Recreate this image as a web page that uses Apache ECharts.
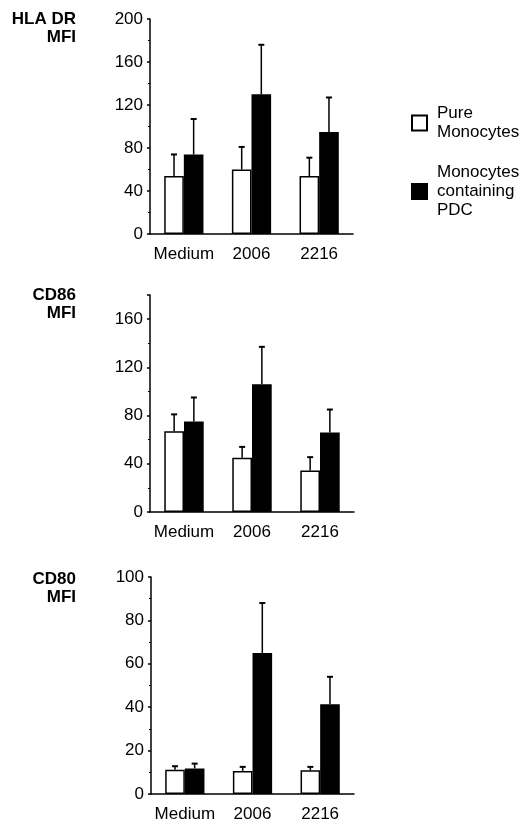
<!DOCTYPE html>
<html>
<head>
<meta charset="utf-8">
<script src="https://cdn.jsdelivr.net/npm/echarts@6/dist/echarts.min.js"></script>
<style>
html,body{margin:0;padding:0;background:#fff;}
#chart{width:523px;height:825px;}
</style>
</head>
<body>
<div id="chart"></div>
<script>
// ---- data ----
const categories = ['Medium', '2006', '2216'];
const seriesNames = ['Pure\nMonocytes', 'Monocytes\ncontaining\nPDC'];
const panelTitles = ['HLA DR\nMFI', 'CD86\nMFI', 'CD80\nMFI'];

// HLA DR
const hlaPure = [54, 60, 54];
const hlaPureSD = [20, 21, 17];
const hlaPdc = [74, 130, 95];
const hlaPdcSD = [33, 46, 32];
// CD86
const cd86Pure = [67, 45, 34.5];
const cd86PureSD = [14, 9, 11];
const cd86Pdc = [75, 106, 66];
const cd86PdcSD = [20, 31, 19];
// CD80
const cd80Pure = [11.2, 10.6, 10.9];
const cd80PureSD = [1.6, 1.9, 1.6];
const cd80Pdc = [11.8, 65, 41.4];
const cd80PdcSD = [2.2, 23, 12.6];

const yMax = [200, 180, 100];
const yInterval = [40, 40, 20];

// ---- layout ----
const FONT = '"Liberation Sans", Arial, Helvetica, sans-serif';
const grids = [
  {left: 150, top: 19, width: 203, height: 215},
  {left: 150, top: 295, width: 204, height: 217},
  {left: 151, top: 577, width: 203, height: 217}
];
const titleTops = [10, 286, 570];
const legendTops = [104, 163];
const BAR_FRAC = 0.29;

const panels = [
  [hlaPure, hlaPureSD, hlaPdc, hlaPdcSD],
  [cd86Pure, cd86PureSD, cd86Pdc, cd86PdcSD],
  [cd80Pure, cd80PureSD, cd80Pdc, cd80PdcSD]
];

function errSeries(idx, means, sds, side) {
  return {
    type: 'custom',
    xAxisIndex: idx, yAxisIndex: idx,
    z: 5,
    silent: true,
    encode: {x: 0, y: 1},
    data: means.map((m, i) => [i, m, sds[i]]),
    renderItem: function (params, api) {
      const x = api.value(0), v = api.value(1), e = api.value(2);
      const base = api.coord([x, v]);
      const top = api.coord([x, v + e]);
      const band = api.size([1, 0])[0];
      const cx = base[0] + side * band * BAR_FRAC / 2;
      return {
        type: 'group',
        children: [
          {type: 'line', shape: {x1: cx, y1: base[1], x2: cx, y2: top[1]}, style: {stroke: '#000', lineWidth: 1.5}},
          {type: 'line', shape: {x1: cx - 3, y1: top[1], x2: cx + 3, y2: top[1]}, style: {stroke: '#000', lineWidth: 2}}
        ]
      };
    }
  };
}

const legendText = {fontFamily: FONT, fontSize: 17, color: '#000', lineHeight: 19, padding: [0, 0, 0, 5]};

const option = {
  animation: false,
  backgroundColor: '#fff',
  textStyle: {fontFamily: FONT},
  title: panelTitles.map((t, i) => ({
    text: t,
    left: 76,
    top: titleTops[i],
    padding: 0,
    textAlign: 'right',
    textStyle: {fontFamily: FONT, fontSize: 17, fontWeight: 'bold', color: '#000', lineHeight: 18, align: 'right'}
  })),
  legend: seriesNames.map((n, i) => ({
    orient: 'vertical',
    left: 411,
    top: legendTops[i],
    padding: 0,
    itemWidth: 15,
    itemHeight: 15,
    icon: 'rect',
    selectedMode: false,
    data: [n],
    textStyle: legendText
  })),
  grid: grids.map(g => Object.assign({containLabel: false}, g)),
  xAxis: grids.map((g, i) => ({
    type: 'category',
    gridIndex: i,
    data: categories,
    axisLine: {lineStyle: {color: '#000', width: 1.5}},
    axisTick: {show: false},
    axisLabel: {color: '#000', fontSize: 17, fontFamily: FONT, margin: 12, interval: 0},
    splitLine: {show: false}
  })),
  yAxis: grids.map((g, i) => ({
    type: 'value',
    gridIndex: i,
    min: 0,
    max: yMax[i],
    interval: yInterval[i],
    axisLine: {show: true, lineStyle: {color: '#000', width: 1.5}},
    axisTick: {show: true, length: 3, lineStyle: {color: '#000', width: 1.5}},
    minorTick: {show: true, splitNumber: 2, length: 2, lineStyle: {color: '#000', width: 1}},
    axisLabel: {color: '#000', fontSize: 17, fontFamily: FONT, margin: 7, showMaxLabel: i !== 1},
    splitLine: {show: false}
  })),
  series: []
};

panels.forEach((p, i) => {
  option.series.push({
    name: seriesNames[0], type: 'bar', xAxisIndex: i, yAxisIndex: i,
    data: p[0], barWidth: (BAR_FRAC * 100) + '%', barGap: '0%',
    itemStyle: {color: '#fff', borderColor: '#000', borderWidth: 1.5}
  });
  option.series.push({
    name: seriesNames[1], type: 'bar', xAxisIndex: i, yAxisIndex: i,
    data: p[2], barWidth: (BAR_FRAC * 100) + '%', barGap: '0%',
    itemStyle: {color: '#000', borderColor: '#000', borderWidth: 1.5}
  });
  option.series.push(errSeries(i, p[0], p[1], -1));
  option.series.push(errSeries(i, p[2], p[3], 1));
});

const chart = echarts.init(document.getElementById('chart'), null, {renderer: 'canvas'});
chart.setOption(option);
</script>
</body>
</html>
